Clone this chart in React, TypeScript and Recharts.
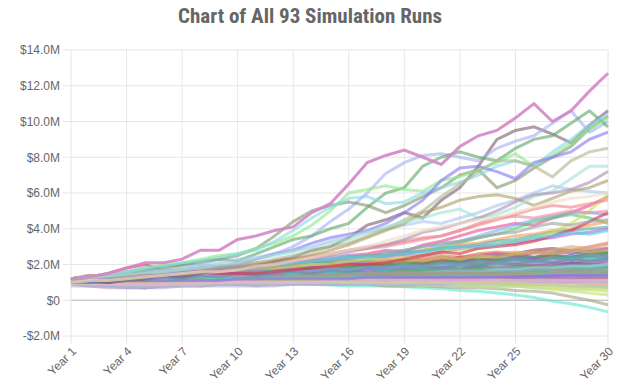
import { CartesianGrid, Line, LineChart, ReferenceLine, XAxis, YAxis } from "recharts";

const years = Array.from({ length: 30 }, (_, i) => `Year ${i + 1}`);
const xTicks = ["Year 1", "Year 4", "Year 7", "Year 10", "Year 13", "Year 16", "Year 19", "Year 22", "Year 25", "Year 30"];
const yTicks = [-2000000, 0, 2000000, 4000000, 6000000, 8000000, 10000000, 12000000, 14000000];

// portfolio value per run, in $M, Year 1 .. Year 30
const lowRuns = [
  [1.2,1.2,1.0,0.75,0.7,0.8,0.85,0.9,1.0,0.9, 0.95,1.0,1.0,0.95,0.95,1.0,1.0,1.05,1.1,1.15, 1.2,1.25,1.35,1.45,1.6,1.6,1.9,2.1,2.0,1.95],
  [1.0,0.9,0.9,0.8,0.8,0.8,0.9,0.9,0.9,0.9, 0.9,0.9,0.9,0.9,0.85,0.8,0.8,0.8,0.75,0.7, 0.65,0.55,0.5,0.4,0.3,0.15,-0.05,-0.2,-0.4,-0.65],
  [1.1,1.0,1.0,0.9,0.9,1.0,1.0,1.0,1.1,1.0, 1.0,1.0,1.0,0.9,0.9,0.9,0.9,0.8,0.8,0.8, 0.75,0.7,0.7,0.65,0.55,0.5,0.4,0.2,0.0,-0.25],
  [0.9,1.0,0.9,0.8,0.9,0.9,1.0,1.1,1.0,1.0, 1.1,1.0,1.2,1.1,1.0,1.1,1.0,1.1,1.0,1.0, 0.9,1.0,0.9,0.8,0.8,0.7,0.6,0.5,0.4,0.3],
  [1.0,1.1,0.9,1.0,0.9,1.0,1.1,1.0,1.2,1.1, 1.2,1.3,1.1,1.2,1.3,1.2,1.1,1.2,1.1,1.0, 1.1,1.0,1.0,0.9,1.0,0.9,0.9,1.0,0.8,0.8],
  [1.1,1.0,1.1,1.0,0.9,1.0,1.0,0.9,1.0,1.1, 0.9,1.0,1.0,1.1,1.0,0.9,1.0,0.9,0.9,0.8, 0.9,0.8,0.8,0.7,0.8,0.7,0.7,0.6,0.6,0.5],
  [0.9,0.8,0.8,0.7,0.8,0.8,0.9,0.8,0.9,1.0, 0.9,1.0,1.1,1.0,1.0,1.1,1.0,1.0,1.1,1.0, 1.1,1.2,1.1,1.0,1.1,1.0,1.1,1.2,1.0,1.0],
  [1.0,0.9,0.8,0.9,0.8,0.9,1.0,0.9,0.9,1.0, 1.1,1.0,1.0,1.1,1.1,1.2,1.1,1.1,1.2,1.2, 1.3,1.2,1.2,1.3,1.2,1.3,1.2,1.1,1.2,1.1],
  [0.9,0.8,0.7,0.7,0.7,0.8,0.8,0.8,0.9,0.9, 0.8,0.9,0.9,1.0,0.9,0.9,1.0,1.0,1.1,1.0, 1.0,1.1,1.0,1.0,1.1,1.1,1.2,1.1,1.2,1.2],
  [1.1,1.2,1.2,1.3,1.2,1.1,1.2,1.3,1.3,1.4, 1.2,1.3,1.4,1.3,1.5,1.4,1.3,1.4,1.5,1.4, 1.6,1.5,1.5,1.4,1.5,1.4,1.3,1.4,1.3,1.3],
  [1.0,1.1,1.0,1.1,1.2,1.1,1.2,1.3,1.2,1.2, 1.3,1.4,1.3,1.3,1.4,1.5,1.4,1.4,1.5,1.6, 1.5,1.6,1.7,1.6,1.6,1.7,1.7,1.8,1.7,1.8],
  [1.2,1.2,1.1,1.1,1.2,1.3,1.3,1.2,1.3,1.4, 1.5,1.4,1.4,1.5,1.6,1.5,1.5,1.6,1.7,1.6, 1.6,1.7,1.8,1.7,1.7,1.8,1.9,1.8,1.8,1.8],
  [1.0,0.9,1.0,0.9,1.0,1.1,1.0,1.1,1.2,1.1, 1.1,1.2,1.2,1.1,1.2,1.3,1.2,1.3,1.4,1.3, 1.3,1.4,1.4,1.3,1.4,1.5,1.4,1.5,1.5,1.5],
  [1.1,1.2,1.1,1.2,1.3,1.3,1.2,1.3,1.4,1.4, 1.3,1.4,1.5,1.4,1.5,1.6,1.5,1.5,1.6,1.6, 1.7,1.6,1.6,1.7,1.8,1.7,1.7,1.6,1.7,1.7],
  [1.0,1.0,0.9,1.0,1.1,1.0,1.1,1.2,1.1,1.1, 1.2,1.3,1.2,1.2,1.3,1.3,1.4,1.3,1.3,1.4, 1.3,1.4,1.5,1.4,1.4,1.3,1.4,1.5,1.4,1.4],
  [1.2,1.3,1.3,1.4,1.3,1.4,1.5,1.4,1.4,1.5, 1.6,1.5,1.6,1.7,1.6,1.6,1.7,1.8,1.7,1.7, 1.8,1.9,1.8,1.8,1.9,1.9,2.0,1.9,2.0,2.0],
  [1.1,1.0,1.0,1.1,1.0,1.1,1.2,1.1,1.1,1.2, 1.3,1.2,1.2,1.3,1.2,1.3,1.4,1.3,1.3,1.4, 1.4,1.5,1.4,1.5,1.6,1.5,1.5,1.6,1.6,1.6],
  [1.0,1.1,1.0,1.0,1.1,1.2,1.1,1.1,1.2,1.3, 1.2,1.2,1.3,1.3,1.4,1.3,1.3,1.4,1.3,1.2, 1.3,1.2,1.2,1.1,1.2,1.1,1.1,1.0,1.1,1.0],
  [1.1,1.1,1.0,1.1,1.0,1.0,1.1,1.1,1.2,1.1, 1.1,1.2,1.1,1.2,1.3,1.2,1.2,1.3,1.2,1.2, 1.3,1.3,1.4,1.3,1.3,1.4,1.3,1.3,1.2,1.2],
  [1.2,1.3,1.3,1.4,1.4,1.3,1.3,1.4,1.5,1.4, 1.5,1.6,1.5,1.5,1.6,1.6,1.7,1.6,1.6,1.7, 1.7,1.8,1.7,1.7,1.8,1.8,1.9,1.8,1.9,1.9],
  [0.9,0.9,1.0,0.9,0.9,1.0,1.1,1.0,1.0,1.1, 1.0,1.1,1.2,1.1,1.1,1.2,1.1,1.1,1.2,1.2, 1.3,1.2,1.2,1.3,1.2,1.2,1.3,1.2,1.3,1.3],
  [1.0,1.0,1.1,1.0,1.0,1.1,1.0,1.0,1.1,1.1, 1.0,1.0,1.1,1.0,1.0,0.9,0.9,1.0,0.9,0.9, 0.9,0.9,0.8,0.9,0.8,0.8,0.8,0.7,0.7,0.7],
  [1.1,1.1,1.2,1.1,1.2,1.3,1.2,1.2,1.3,1.3, 1.3,1.4,1.3,1.4,1.5,1.4,1.4,1.5,1.4,1.5, 1.6,1.5,1.5,1.6,1.5,1.5,1.6,1.7,1.6,1.6],
  [1.0,1.1,1.1,1.2,1.1,1.2,1.3,1.2,1.2,1.3, 1.3,1.4,1.3,1.3,1.4,1.5,1.4,1.4,1.5,1.5, 1.6,1.5,1.6,1.6,1.7,1.6,1.7,1.8,1.7,1.8],
  [0.9,1.0,0.9,1.0,1.1,1.0,1.0,1.1,1.0,1.0, 1.1,1.0,1.0,1.1,1.0,1.0,1.0,0.9,1.0,0.9, 0.9,0.9,0.8,0.9,0.8,0.8,0.7,0.7,0.6,0.6],
  [1.1,1.2,1.2,1.3,1.2,1.3,1.3,1.4,1.3,1.3, 1.4,1.4,1.5,1.4,1.4,1.5,1.4,1.5,1.4,1.4, 1.5,1.6,1.5,1.5,1.6,1.5,1.5,1.5,1.4,1.4],
  [1.0,0.9,0.9,0.8,0.8,0.8,0.8,0.9,0.9,0.9, 0.9,0.9,0.9,0.9,0.9,0.9,0.9,0.9,0.9,0.9, 0.9,0.9,0.9,0.9,0.9,0.9,0.9,0.8,0.8,0.8],
  [1.2,1.2,1.3,1.3,1.2,1.3,1.4,1.4,1.3,1.4, 1.5,1.6,1.5,1.5,1.6,1.7,1.6,1.6,1.7,1.8, 1.7,1.8,1.9,1.8,1.9,2.0,1.9,2.0,2.0,2.1],
  [1.0,1.0,1.1,1.2,1.1,1.1,1.2,1.3,1.2,1.2, 1.3,1.2,1.2,1.3,1.3,1.4,1.3,1.3,1.4,1.4, 1.5,1.4,1.4,1.5,1.4,1.4,1.5,1.5,1.5,1.5],
  [1.1,1.1,1.2,1.2,1.3,1.2,1.3,1.4,1.3,1.3, 1.4,1.5,1.4,1.4,1.5,1.6,1.5,1.5,1.6,1.6, 1.7,1.6,1.7,1.8,1.7,1.7,1.8,1.9,1.8,1.9],
  [1.2,1.2,1.2,1.2,1.3,1.3,1.3,1.3,1.3,1.4, 1.4,1.4,1.4,1.4,1.4,1.5,1.5,1.5,1.5,1.5, 1.5,1.6,1.6,1.6,1.6,1.7,1.7,1.7,1.7,1.8],
  [1.0,1.0,1.0,1.0,1.1,1.1,1.1,1.1,1.1,1.2, 1.2,1.2,1.2,1.2,1.2,1.2,1.2,1.3,1.3,1.3, 1.3,1.3,1.3,1.3,1.4,1.4,1.4,1.4,1.4,1.5],
  [0.9,0.9,0.9,1.0,1.0,1.0,1.0,1.1,1.1,1.1, 1.1,1.1,1.2,1.2,1.2,1.2,1.1,1.1,1.1,1.1, 1.1,1.1,1.1,1.0,1.0,1.0,1.0,1.0,0.9,0.9],
  [1.1,1.1,1.2,1.2,1.2,1.2,1.2,1.3,1.3,1.3, 1.3,1.3,1.4,1.4,1.4,1.4,1.4,1.5,1.5,1.5, 1.5,1.6,1.6,1.6,1.6,1.6,1.7,1.7,1.7,1.7],
  [0.8,0.8,0.8,0.7,0.7,0.7,0.8,0.8,0.8,0.8, 0.8,0.8,0.9,0.9,0.9,0.9,0.9,0.9,0.9,0.9, 0.9,1.0,1.0,1.0,1.0,1.0,1.0,1.0,1.0,1.0],
  [1.2,1.2,1.3,1.3,1.3,1.4,1.4,1.4,1.4,1.5, 1.5,1.5,1.5,1.6,1.6,1.6,1.6,1.6,1.7,1.7, 1.7,1.7,1.8,1.8,1.8,1.9,1.9,1.9,2.0,2.0],
  [1.0,1.0,1.0,1.0,1.0,1.1,1.1,1.1,1.1,1.1, 1.1,1.1,1.2,1.2,1.2,1.2,1.2,1.2,1.2,1.2, 1.2,1.2,1.2,1.2,1.1,1.1,1.1,1.1,1.1,1.1],
  [1.1,1.1,1.1,1.1,1.2,1.2,1.2,1.2,1.3,1.3, 1.3,1.3,1.4,1.4,1.4,1.4,1.5,1.5,1.5,1.5, 1.6,1.6,1.6,1.7,1.7,1.8,1.8,1.9,1.9,2.0],
  [1.0,1.0,1.0,0.9,0.9,0.9,1.0,1.0,1.0,1.0, 1.0,1.1,1.1,1.1,1.1,1.1,1.1,1.1,1.1,1.1, 1.0,1.0,1.0,1.0,0.9,0.9,0.9,0.8,0.8,0.7],
  [1.1,1.2,1.2,1.3,1.3,1.3,1.4,1.4,1.5,1.5, 1.5,1.6,1.6,1.6,1.7,1.7,1.7,1.8,1.8,1.8, 1.9,1.9,1.9,2.0,2.0,2.0,2.1,2.1,2.1,2.2],
  [1.0,1.1,1.1,1.1,1.1,1.2,1.2,1.2,1.2,1.2, 1.3,1.3,1.3,1.3,1.3,1.3,1.4,1.4,1.4,1.4, 1.4,1.4,1.5,1.5,1.5,1.5,1.5,1.6,1.6,1.6],
  [0.9,0.9,0.9,0.9,0.9,0.9,0.9,0.9,1.0,1.0, 1.0,1.0,1.0,1.0,1.0,1.0,1.0,1.0,1.0,1.0, 1.0,1.0,1.0,1.0,1.0,0.9,0.9,0.9,0.9,0.9],
  [1.2,1.2,1.2,1.2,1.2,1.2,1.3,1.3,1.3,1.3, 1.3,1.4,1.4,1.4,1.4,1.5,1.5,1.5,1.5,1.5, 1.6,1.6,1.6,1.6,1.6,1.7,1.7,1.7,1.7,1.8],
  [1.0,1.0,0.9,0.9,0.9,0.9,0.9,1.0,1.0,1.0, 1.0,1.0,1.0,1.0,1.1,1.1,1.1,1.1,1.1,1.1, 1.1,1.1,1.1,1.1,1.1,1.1,1.1,1.1,1.1,1.1],
  [1.1,1.1,1.1,1.1,1.1,1.2,1.2,1.2,1.2,1.2, 1.2,1.2,1.3,1.3,1.3,1.3,1.3,1.3,1.4,1.4, 1.4,1.4,1.4,1.4,1.5,1.5,1.5,1.5,1.5,1.5],
  [1.2,1.2,1.2,1.3,1.3,1.3,1.3,1.3,1.4,1.4, 1.4,1.4,1.4,1.4,1.4,1.4,1.5,1.5,1.5,1.5, 1.5,1.5,1.5,1.5,1.5,1.5,1.6,1.6,1.6,1.6],
  [1.0,1.0,1.0,1.1,1.1,1.1,1.1,1.1,1.1,1.2, 1.2,1.2,1.2,1.2,1.2,1.2,1.3,1.3,1.3,1.3, 1.3,1.3,1.3,1.3,1.3,1.3,1.4,1.4,1.4,1.4],
];

const baseRuns = [
  [1.1,1.3,1.2,1.4,1.3,1.5,1.6,1.4,1.6,1.7, 1.6,1.8,1.9,1.7,1.9,2.1,2.0,1.9,2.2,2.1, 2.3,2.2,2.5,2.6,2.4,2.7,2.8,2.6,2.8,2.9],
  [1.2,1.2,1.4,1.3,1.5,1.4,1.6,1.4,1.5,1.7, 1.6,1.8,1.7,1.9,1.8,2.0,1.9,2.1,2.2,2.0, 2.2,2.4,2.3,2.5,2.6,2.4,2.6,2.8,2.7,2.8],
  [1.0,1.1,1.0,1.2,1.2,1.3,1.4,1.3,1.5,1.5, 1.4,1.6,1.7,1.6,1.8,1.9,1.8,2.0,2.1,2.0, 2.2,2.3,2.2,2.4,2.5,2.4,2.6,2.7,2.6,2.7],
  [1.1,1.2,1.3,1.3,1.5,1.4,1.4,1.6,1.7,1.6, 1.5,1.7,1.9,1.9,1.8,2.0,2.1,2.0,2.2,2.3, 2.2,2.4,2.5,2.4,2.6,2.8,2.9,2.7,2.8,2.6],
  [1.0,1.1,1.2,1.1,1.3,1.4,1.3,1.5,1.4,1.6, 1.7,1.6,1.8,1.9,1.8,2.0,2.1,1.9,2.1,2.3, 2.2,2.4,2.5,2.3,2.5,2.7,2.5,2.7,2.9,2.9],
  [1.2,1.3,1.2,1.4,1.5,1.4,1.6,1.7,1.5,1.7, 1.8,1.7,1.9,1.8,2.0,1.9,2.1,2.0,1.9,2.1, 2.2,2.1,2.3,2.2,2.4,2.3,2.5,2.4,2.6,2.6],
  [1.1,1.0,1.2,1.3,1.2,1.4,1.3,1.5,1.6,1.5, 1.7,1.6,1.8,1.7,1.8,1.9,1.8,2.0,2.1,1.9, 2.1,2.2,2.1,2.3,2.4,2.3,2.5,2.4,2.6,2.4],
  [1.0,1.1,1.1,1.2,1.3,1.2,1.4,1.3,1.5,1.4, 1.5,1.6,1.5,1.7,1.6,1.8,1.9,1.7,1.9,2.0, 1.9,2.1,2.0,2.2,2.3,2.2,2.4,2.3,2.5,2.5],
  [1.2,1.4,1.3,1.5,1.4,1.6,1.7,1.6,1.8,1.7, 1.9,1.8,2.0,1.9,2.1,2.0,2.2,2.1,2.3,2.1, 2.2,2.4,2.2,2.3,2.1,2.3,2.5,2.3,2.2,2.4],
  [1.1,1.2,1.1,1.2,1.3,1.2,1.4,1.3,1.5,1.4, 1.6,1.5,1.6,1.7,1.6,1.8,1.7,1.9,1.8,2.0, 1.9,2.1,2.2,2.0,2.2,2.3,2.1,2.3,2.2,2.3],
  [1.0,1.1,1.2,1.1,1.3,1.2,1.3,1.4,1.3,1.5, 1.4,1.6,1.5,1.7,1.6,1.7,1.8,1.7,1.9,1.8, 2.0,1.9,2.1,2.0,2.2,2.1,2.3,2.4,2.3,2.5],
  [1.2,1.3,1.3,1.5,1.4,1.6,1.5,1.7,1.8,1.7, 1.9,2.0,1.9,2.1,2.0,2.2,2.1,2.3,2.2,2.4, 2.5,2.4,2.6,2.7,2.6,2.8,2.9,2.8,3.0,3.2],
  [1.1,1.2,1.3,1.2,1.4,1.3,1.5,1.4,1.6,1.5, 1.6,1.7,1.6,1.8,1.7,1.9,1.8,1.9,2.0,1.9, 2.1,2.0,2.2,2.1,2.3,2.2,2.3,2.5,2.4,2.5],
  [1.0,1.2,1.1,1.3,1.2,1.4,1.3,1.5,1.4,1.6, 1.7,1.6,1.8,1.9,1.8,2.0,2.1,2.2,2.1,2.3, 2.4,2.3,2.5,2.6,2.7,2.6,2.8,3.0,2.9,3.1],
  [1.1,1.1,1.2,1.3,1.2,1.3,1.4,1.3,1.5,1.4, 1.6,1.5,1.7,1.6,1.7,1.8,1.7,1.9,1.8,1.9, 2.0,1.9,2.1,2.0,2.2,2.1,2.2,2.3,2.2,2.3],
  [1.2,1.3,1.2,1.4,1.3,1.5,1.4,1.6,1.5,1.7, 1.6,1.8,1.7,1.8,1.9,1.8,2.0,1.9,2.1,2.0, 2.1,2.2,2.0,2.2,2.3,2.2,2.4,2.3,2.5,2.6],
  [1.0,1.1,1.0,1.2,1.1,1.3,1.2,1.4,1.3,1.5, 1.4,1.5,1.6,1.5,1.7,1.6,1.8,1.7,1.8,1.9, 1.8,2.0,1.9,2.1,2.0,2.2,2.1,2.3,2.2,2.3],
  [1.1,1.2,1.3,1.2,1.4,1.3,1.5,1.6,1.5,1.7, 1.6,1.8,1.9,1.8,2.0,2.1,2.0,2.2,2.3,2.2, 2.4,2.3,2.5,2.6,2.5,2.7,2.6,2.8,2.7,2.9],
  [1.2,1.3,1.2,1.4,1.5,1.4,1.6,1.5,1.7,1.8, 1.7,1.9,1.8,2.0,1.9,2.1,2.2,2.1,2.3,2.2, 2.4,2.3,2.5,2.4,2.6,2.7,2.6,2.8,2.7,2.8],
  [1.1,1.2,1.1,1.3,1.2,1.4,1.3,1.5,1.4,1.6, 1.5,1.7,1.6,1.7,1.8,1.7,1.9,1.8,2.0,1.9, 2.1,2.0,2.2,2.1,2.3,2.2,2.4,2.3,2.5,2.5],
];

const midRuns = [
  [1.1,1.2,1.3,1.3,1.5,1.4,1.5,1.7,1.8,1.8, 1.9,2.1,2.2,2.1,2.3,2.5,2.6,2.8,2.7,3.1, 3.3,3.6,3.9,4.1,4.3,4.2,4.6,4.9,5.3,5.8],
  [1.2,1.2,1.4,1.5,1.6,1.5,1.7,1.8,1.7,1.9, 2.0,2.1,2.0,2.2,2.4,2.5,2.4,2.7,2.8,3.0, 3.1,3.3,3.6,3.9,4.2,4.5,4.7,4.9,4.9,4.8],
  [1.0,1.1,1.2,1.3,1.3,1.4,1.4,1.5,1.7,1.7, 1.6,1.8,1.9,2.0,2.2,2.2,2.3,2.5,2.6,2.8, 3.0,3.2,3.5,3.7,4.0,4.4,4.6,4.8,4.6,4.3],
  [1.1,1.2,1.2,1.3,1.4,1.5,1.6,1.6,1.8,1.8, 1.9,1.9,2.0,2.2,2.3,2.3,2.5,2.6,2.6,2.8, 2.9,3.1,3.2,3.4,3.6,3.7,3.9,4.0,4.2,4.4],
  [1.2,1.3,1.3,1.4,1.6,1.5,1.6,1.7,1.8,1.8, 1.9,2.0,2.1,2.1,2.2,2.4,2.5,2.5,2.7,2.7, 2.9,3.0,3.1,3.3,3.4,3.6,3.8,3.9,4.0,4.1],
  [1.0,1.1,1.1,1.2,1.3,1.3,1.4,1.5,1.5,1.6, 1.7,1.8,1.8,1.9,2.0,2.1,2.2,2.4,2.5,2.5, 2.7,2.9,3.0,3.1,3.2,3.4,3.5,3.7,3.8,4.0],
  [1.1,1.1,1.2,1.3,1.4,1.4,1.5,1.5,1.6,1.7, 1.8,1.8,1.9,2.0,2.0,2.2,2.3,2.3,2.4,2.5, 2.7,2.8,2.9,3.1,3.3,3.5,3.8,4.3,5.0,5.9],
  [1.2,1.3,1.5,1.8,2.0,1.7,1.6,1.6,1.5,1.5, 1.5,1.6,1.7,1.8,1.9,2.0,2.0,2.1,2.3,2.5, 2.7,2.6,2.9,3.0,3.1,3.3,3.6,3.9,4.4,4.9],
  [1.2,1.2,1.3,1.4,1.5,1.6,1.7,1.8,1.9,2.0, 2.1,2.2,2.3,2.4,2.6,2.8,2.9,3.0,3.2,3.4, 3.6,3.9,4.3,4.6,4.7,4.6,4.8,5.0,4.9,5.0],
  [1.1,1.1,1.2,1.2,1.3,1.4,1.5,1.5,1.6,1.7, 1.8,1.9,2.0,2.2,2.3,2.3,2.5,2.6,2.8,3.0, 3.2,3.3,3.5,3.7,3.8,4.1,4.3,4.2,4.4,4.5],
  [1.0,1.1,1.2,1.3,1.4,1.5,1.5,1.6,1.8,1.9, 2.0,2.0,2.1,2.2,2.3,2.4,2.4,2.5,2.6,2.7, 2.9,3.0,3.0,3.1,3.3,3.5,3.6,3.8,3.7,3.9],
  [1.2,1.2,1.3,1.4,1.4,1.5,1.6,1.7,1.8,1.9, 2.0,2.2,2.3,2.5,2.6,2.8,3.0,3.1,3.3,3.5, 3.6,3.9,4.2,4.5,4.8,5.1,5.3,5.2,5.4,5.6],
];

const highRuns = [
  [1.1,1.1,1.0,1.1,1.2,1.4,1.3,1.5,1.7,1.8, 1.9,2.2,2.4,2.8,3.0,3.5,4.2,4.5,4.9,4.6, 5.6,6.3,7.5,9.0,9.5,9.7,9.3,8.8,9.8,10.6],
  [1.2,1.3,1.4,1.6,1.8,1.7,1.9,2.0,1.9,2.1, 2.3,2.6,3.0,3.6,4.4,5.1,6.0,7.1,7.7,8.1, 8.2,8.0,7.8,8.5,8.9,9.2,9.9,10.6,9.4,10.0],
  [1.2,1.3,1.4,1.5,1.7,1.9,2.0,2.2,2.3,2.2, 2.6,3.0,3.4,3.6,4.0,4.3,5.2,6.0,6.3,7.5, 8.0,8.3,8.0,7.8,8.5,9.0,9.2,9.9,10.6,9.7],
  [1.2,1.3,1.4,1.5,1.6,1.8,2.0,2.1,2.3,2.5, 2.9,3.6,4.4,5.0,5.3,5.5,5.3,4.9,5.3,5.8, 6.3,7.0,7.3,6.3,6.7,7.4,8.0,8.6,9.6,10.3],
  [1.2,1.3,1.5,1.6,1.8,2.0,2.1,2.3,2.5,2.6, 2.9,3.2,3.6,4.2,5.0,6.0,6.2,6.4,6.2,6.1, 6.7,6.9,7.3,7.7,8.2,7.5,8.1,8.8,9.6,10.2],
  [1.2,1.3,1.4,1.6,1.8,1.9,2.1,2.2,2.4,2.6, 2.8,3.3,3.9,4.6,5.2,5.7,5.8,5.4,5.5,6.0, 6.3,6.6,7.0,7.5,7.8,7.5,8.3,9.0,9.8,10.4],
  [1.1,1.1,1.2,1.3,1.4,1.5,1.6,1.8,1.9,2.0, 2.3,2.6,2.8,3.2,3.5,3.7,3.9,4.3,4.9,5.6, 6.7,7.4,7.5,7.2,6.8,7.7,8.0,8.3,9.0,9.4],
  [1.2,1.3,1.4,1.5,1.6,1.7,1.8,2.0,2.1,2.3, 2.4,2.6,2.8,3.0,3.3,3.6,3.8,4.0,4.2,4.4, 4.3,4.6,4.9,5.3,5.6,6.0,6.4,6.2,6.1,6.0],
  [1.1,1.2,1.3,1.4,1.5,1.6,1.7,1.8,1.9,2.0, 2.1,2.3,2.5,2.7,3.0,3.2,3.6,4.0,4.5,5.0, 5.8,6.5,7.2,7.8,7.8,7.5,6.9,7.8,8.3,8.5],
  [1.0,1.1,1.1,1.2,1.3,1.4,1.5,1.6,1.7,1.8, 2.0,2.1,2.3,2.5,2.8,3.1,3.5,3.9,4.3,4.9, 5.2,5.6,5.8,5.9,5.7,5.3,5.7,6.1,6.3,6.7],
  [1.1,1.2,1.3,1.4,1.5,1.6,1.7,1.8,2.0,2.1, 2.3,2.5,2.7,2.9,3.2,3.4,3.8,4.1,4.4,4.6, 4.9,5.1,4.6,4.8,5.2,5.8,6.1,6.8,7.5,7.5],
  [1.1,1.1,1.2,1.3,1.4,1.4,1.5,1.6,1.7,1.8, 1.9,2.0,2.2,2.3,2.5,2.7,2.9,3.1,3.4,3.8, 4.0,4.3,4.6,5.0,5.5,5.9,6.0,6.2,6.6,7.2],
  [1.0,1.1,1.1,1.2,1.3,1.4,1.5,1.6,1.6,1.7, 1.9,2.0,2.2,2.4,2.6,2.8,3.0,3.3,3.6,3.9, 4.1,4.3,4.5,4.6,4.9,5.2,5.5,5.7,5.8,6.0],
  [1.2,1.3,1.5,1.8,2.1,2.1,2.3,2.8,2.8,3.4, 3.6,3.9,4.1,4.9,5.4,6.5,7.7,8.1,8.4,8.0, 7.6,8.6,9.2,9.5,10.2,11.0,10.0,10.6,11.7,12.7],
];

const lowColors = [
  "#4a6cd4", "#5ee8d0", "#a4a484", "#c4e070", "#f0a0c8", "#b0e0a0", "#d0a0e0", "#a0c0a0",
  "#c0a0a8", "#e070c0", "#70a0e0", "#50d090", "#9090d0", "#e0c080", "#80c0c0", "#c07070",
  "#60b0d0", "#a0d060", "#d080a0", "#40a0a0", "#b070b0", "#90e0e0", "#f0c0a0", "#5070a0",
  "#e0e070", "#7fd07f", "#c0c0c0", "#a080c0", "#e08080", "#40c0a0", "#d0a060", "#8080f0",
  "#f080e0", "#60e060", "#b0b0e0", "#70b070", "#e0a0a0", "#9fd0ff", "#c0d080", "#a06090",
  "#50c0e0", "#d0d0a0", "#80a0c0", "#e0b0e0", "#70d0b0", "#b09070", "#9070e0",
];
const baseColors = [
  "#d040e0", "#40b060", "#607080", "#4090c0", "#f0a0d0", "#909040", "#5080e0", "#70e0a0",
  "#a07050", "#9060d0", "#40d0d0", "#f07060", "#3aa080", "#d0b080", "#b0a0e0", "#50a040",
  "#6890b0", "#c060a0", "#d0c050", "#8098c8",
];
const midColors = [
  "#e8509a", "#7fb0f0", "#5cc878", "#f0a060", "#50b0b0", "#b070d8", "#c8e058", "#d83050",
  "#e890a8", "#a0a0a0", "#60c8e8", "#f08888",
];
const highColors = [
  "#7d6070", "#a4b0f4", "#5fa865", "#7f9870", "#8ee88a", "#88d8e4", "#8878f4", "#a8c8f0",
  "#b0b890", "#a8a068", "#a0e4d4", "#b090b0", "#eedcc4", "#d486c6",
];

const allRuns = [...lowRuns, ...baseRuns, ...midRuns, ...highRuns];
const allColors = [...lowColors, ...baseColors, ...midColors, ...highColors];

const data = years.map((year, i) => {
  const row: Record<string, string | number> = { year };
  allRuns.forEach((run, r) => {
    row[`run${r}`] = Math.round(run[i] * 1000000);
  });
  return row;
});

const formatMoney = (v: number) => {
  if (v === 0) return "$0";
  return `${v < 0 ? "-" : ""}$${(Math.abs(v) / 1000000).toFixed(1)}M`;
};

const tickStyle = { fontSize: 12, fill: "#666", fontFamily: "'Liberation Sans', Arial, Helvetica, sans-serif" };

export default function App() {
  return (
    <div style={{ position: "absolute", left: 0, top: 0, width: 630, height: 388, background: "#fff" }}>
      <div
        style={{
          position: "absolute",
          top: 4,
          left: 0,
          width: 620,
          textAlign: "center",
          fontFamily: "'Liberation Sans Narrow', 'Roboto Condensed', Roboto, sans-serif",
          fontWeight: 700,
          fontSize: 21,
          color: "#666",
        }}
      >
        Chart of All 93 Simulation Runs
      </div>
      <LineChart width={630} height={388} data={data} margin={{ top: 50, right: 22, bottom: 0, left: 0 }}>
        <CartesianGrid stroke="#e6e6e6" strokeWidth={1} />
        <XAxis
          dataKey="year"
          scale="point"
          ticks={xTicks}
          interval={0}
          height={52}
          axisLine={false}
          tickLine={{ stroke: "#e6e6e6" }}
          tickSize={8}
          tickMargin={2}
          angle={-45}
          textAnchor="end"
          tick={tickStyle}
        />
        <YAxis
          domain={[-2000000, 14000000]}
          ticks={yTicks}
          width={71}
          axisLine={false}
          tickLine={{ stroke: "#e6e6e6" }}
          tickSize={8}
          tickMargin={3}
          tickFormatter={formatMoney}
          tick={tickStyle}
        />
        <ReferenceLine y={0} stroke="#bdbdbd" strokeWidth={1} />
        {allRuns.map((_, r) => (
          <Line
            key={r}
            type="linear"
            dataKey={`run${r}`}
            stroke={allColors[r]}
            strokeOpacity={r === 0 || r === allRuns.length - 1 ? 0.9 : 0.62}
            strokeWidth={3}
            dot={false}
            activeDot={false}
            isAnimationActive={false}
          />
        ))}
      </LineChart>
    </div>
  );
}
